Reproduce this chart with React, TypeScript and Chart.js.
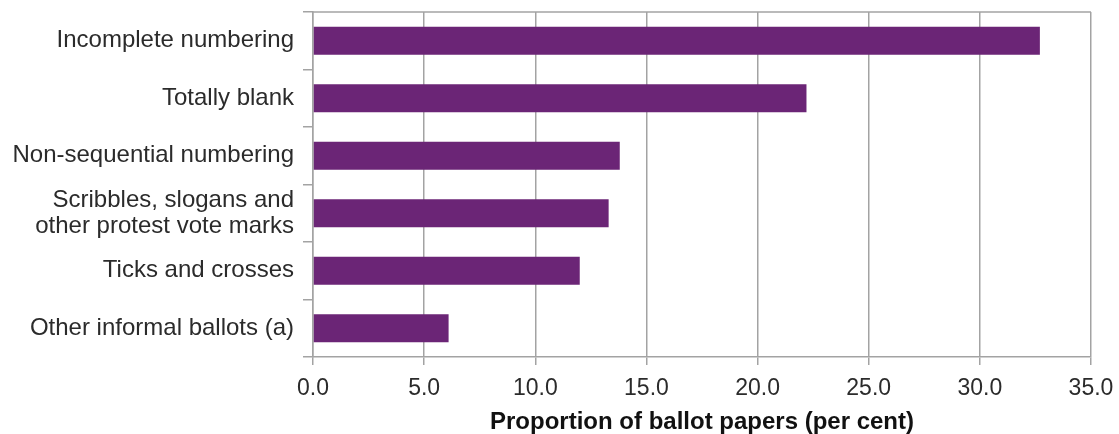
import React, { useEffect, useRef } from "react";
import { Chart, registerables } from "chart.js";

Chart.register(...registerables);

const categories: (string | string[])[] = [
  "Incomplete numbering",
  "Totally blank",
  "Non-sequential numbering",
  ["Scribbles, slogans and", "other protest vote marks"],
  "Ticks and crosses",
  "Other informal ballots (a)",
];
const values: number[] = [32.7, 22.2, 13.8, 13.3, 12.0, 6.1];
const xTitle = "Proportion of ballot papers (per cent)";

const GRID = "#a3a3a3";
const TEXT = "#2b2b2b";
const BAR = "#6b2576";
const FONT = "'Liberation Sans', Arial, sans-serif";

const frame = {
  id: "frame",
  afterDraw(chart: any) {
    const { ctx, chartArea } = chart;
    ctx.save();
    ctx.strokeStyle = GRID;
    ctx.lineWidth = 1.5;
    ctx.beginPath();
    ctx.moveTo(chartArea.left, chartArea.top);
    ctx.lineTo(chartArea.right, chartArea.top);
    ctx.stroke();
    ctx.restore();
  },
};

export default function App() {
  const ref = useRef<HTMLCanvasElement>(null);
  useEffect(() => {
    document.body.style.margin = "0";
    const chart = new Chart(ref.current!, {
      type: "bar",
      data: {
        labels: categories,
        datasets: [
          {
            data: values,
            backgroundColor: BAR,
            borderWidth: 0,
            categoryPercentage: 1,
            barPercentage: 0.49,
          },
        ],
      },
      options: {
        indexAxis: "y",
        animation: false,
        responsive: false,
        layout: { padding: { top: 12, right: 28, bottom: 0, left: 0 } },
        plugins: { legend: { display: false }, tooltip: { enabled: false } },
        scales: {
          x: {
            min: 0,
            max: 35,
            afterFit: (s: any) => {
              s.height = 77;
              s.paddingLeft = 0;
              s.paddingRight = 0;
            },
            ticks: {
              stepSize: 5,
              color: TEXT,
              font: { family: FONT, size: 23 },
              padding: 10,
              callback: (v: any) => Number(v).toFixed(1),
            },
            grid: { color: GRID, lineWidth: 1.5, tickLength: 8 },
            border: { color: GRID, width: 1.5 },
            title: {
              display: true,
              text: xTitle,
              color: "#111",
              font: { family: FONT, size: 24, weight: "bold" },
              padding: { top: 0, bottom: -3 },
            },
          },
          y: {
            afterFit: (s: any) => {
              s.width = 313;
              s.paddingTop = 0;
              s.paddingBottom = 0;
            },
            ticks: {
              autoSkip: false,
              color: TEXT,
              font: { family: FONT, size: 24, lineHeight: 1.1 },
              padding: 9,
            },
            grid: {
              offset: true,
              drawOnChartArea: false,
              color: GRID,
              lineWidth: 1.5,
              tickLength: 10,
            },
            border: { color: GRID, width: 1.5 },
          },
        },
      },
      plugins: [frame],
    });
    return () => chart.destroy();
  }, []);
  return <canvas ref={ref} width={1119} height={434} style={{ display: "block" }} />;
}
